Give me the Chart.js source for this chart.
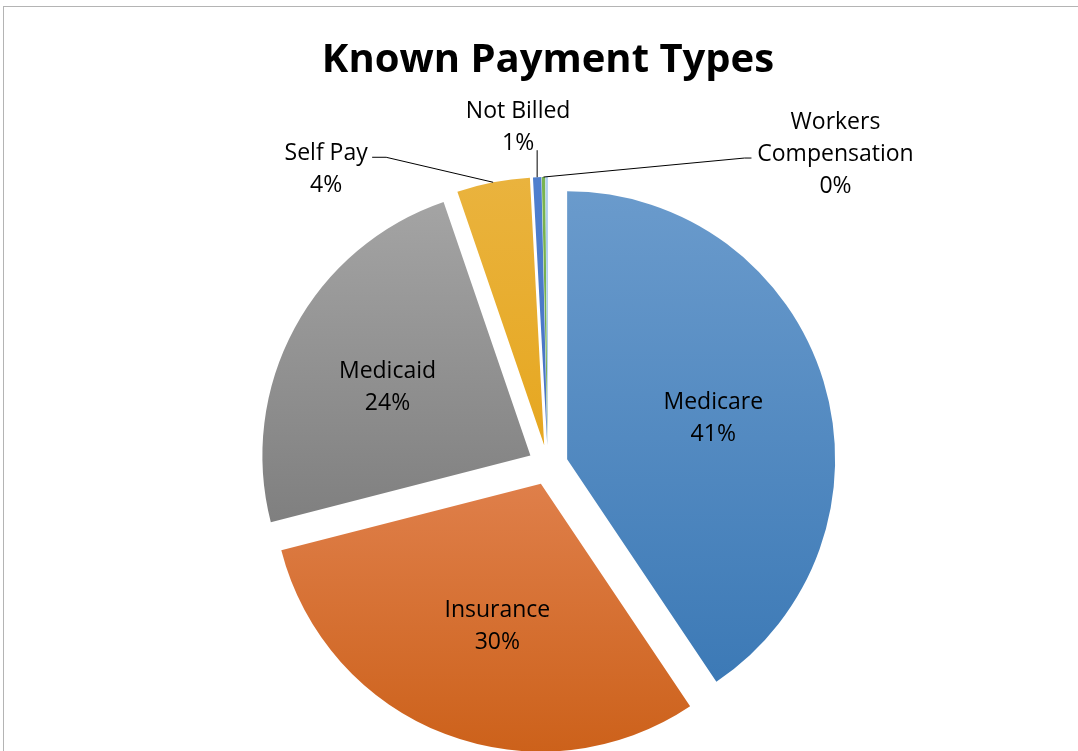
<!DOCTYPE html>
<html lang="en">
<head>
<meta charset="UTF-8">
<title>Known Payment Types</title>
<script src="https://cdn.jsdelivr.net/npm/chart.js@4.4.0/dist/chart.umd.min.js"></script>
<style>
  html, body { margin: 0; padding: 0; background: #fff; overflow: hidden; }
  .frame { position: absolute; left: 3px; top: 6px; width: 1200px; height: 900px; border: 1px solid #b4b4b4; }
  .chart { position: absolute; left: 0; top: 0; width: 1078px; height: 751px; }
</style>
</head>
<body>
<div class="frame"></div>
<div class="chart"><canvas id="chart-1" width="1078" height="751"></canvas></div>

<script>
  const categories = ['Medicare', 'Insurance', 'Medicaid', 'Self Pay', 'Not Billed', 'Workers Compensation', 'Other'];
  const shares = [40.6, 30.4, 23.75, 4.4, 0.5, 0.2, 0.15];

  // light (top) / dark (bottom) ends of each slice's gradient
  const topColors = ['#6c9ccd', '#f39f7d', '#a8a8a8', '#eab440', '#5080cf', '#7ab552', '#b0d0ee'];
  const bottomColors = ['#3675b3', '#cb5f17', '#666666', '#e29a00', '#3e68b5', '#66a03f', '#8fb8de'];

  const RADIUS = 268;
  const EXPLODE = 20;
  const LABEL_FONT = '23px "Open Sans"';
  const LINE_H = 32;
  const TEXT_DY = 3;

  // where each data label goes: inside = fraction of radius (+ small nudge), otherwise offsets from the arc edge
  const labelPlaces = [
    { inside: 0.57, nudge: [0, 1] },
    { inside: 0.56, nudge: [10, 0] },
    { inside: 0.61, nudge: [1, 7] },
    { elbow: [-107, -25], end: [-121, -25], text: [-167, -16] },
    { elbow: [0, -27], end: [0, -27], text: [-19, -53] },
    { elbow: [201, -19], end: [208, -19], text: [292, -26] },
    null
  ];

  function sliceGradient(context, i) {
    const chart = context.chart;
    const area = chart.chartArea;
    if (!area) return topColors[i];
    const cy = (area.top + area.bottom) / 2;
    const g = chart.ctx.createLinearGradient(0, cy - RADIUS - EXPLODE, 0, cy + RADIUS + EXPLODE);
    g.addColorStop(0, topColors[i]);
    g.addColorStop(1, bottomColors[i]);
    return g;
  }

  function wrap(ctx, text, maxWidth) {
    if (ctx.measureText(text).width <= maxWidth) return [text];
    return text.split(' ');
  }

  const explodeSlices = {
    id: 'explodeSlices',
    beforeDatasetsDraw(chart) {
      const ctx = chart.ctx;
      chart.getDatasetMeta(0).data.forEach((arc) => {
        const mid = (arc.startAngle + arc.endAngle) / 2;
        ctx.save();
        ctx.translate(EXPLODE * Math.cos(mid), EXPLODE * Math.sin(mid));
        arc.draw(ctx);
        ctx.restore();
      });
      return false;
    }
  };

  const sliceLabels = {
    id: 'sliceLabels',
    afterDraw(chart) {
      const ctx = chart.ctx;
      const meta = chart.getDatasetMeta(0);
      const values = chart.data.datasets[0].data;
      const total = values.reduce((a, b) => a + b, 0);
      ctx.save();
      ctx.font = LABEL_FONT;
      ctx.fillStyle = '#000';
      ctx.strokeStyle = '#000';
      ctx.lineWidth = 1;
      ctx.textAlign = 'center';
      ctx.textBaseline = 'middle';
      meta.data.forEach((arc, i) => {
        const place = labelPlaces[i];
        if (!place) return;
        const mid = (arc.startAngle + arc.endAngle) / 2;
        const cos = Math.cos(mid);
        const sin = Math.sin(mid);
        const ax = arc.x + EXPLODE * cos;
        const ay = arc.y + EXPLODE * sin;
        const pct = Math.round(values[i] / total * 100 + 1e-6) + '%';
        const lines = wrap(ctx, chart.data.labels[i], 170).concat(pct);
        let tx, ty;
        if (place.inside) {
          tx = ax + arc.outerRadius * place.inside * cos + place.nudge[0];
          ty = ay + arc.outerRadius * place.inside * sin + place.nudge[1];
        } else {
          const px = ax + arc.outerRadius * cos;
          const py = ay + arc.outerRadius * sin;
          ctx.beginPath();
          ctx.moveTo(px, py);
          ctx.lineTo(px + place.elbow[0], py + place.elbow[1]);
          ctx.lineTo(px + place.end[0], py + place.end[1]);
          ctx.stroke();
          tx = px + place.text[0];
          ty = py + place.text[1];
        }
        lines.forEach((s, k) => ctx.fillText(s, tx, ty + TEXT_DY + (k - (lines.length - 1) / 2) * LINE_H));
      });
      ctx.restore();
    }
  };

  const config = {
    type: 'pie',
    data: {
      labels: categories,
      datasets: [{
        data: shares,
        backgroundColor: (c) => sliceGradient(c, c.dataIndex),
        borderWidth: 0,
        radius: RADIUS
      }]
    },
    options: {
      responsive: false,
      animation: false,
      layout: { padding: { left: 18 } },
      plugins: {
        legend: { display: false },
        tooltip: { enabled: false },
        title: {
          display: true,
          text: 'Known Payment Types',
          color: '#000',
          font: { family: 'Open Sans', size: 40, weight: 'bold' },
          padding: { top: 37, bottom: 94 }
        }
      }
    },
    plugins: [explodeSlices, sliceLabels]
  };

  new Chart(document.getElementById('chart-1'), config);
</script>
</body>
</html>
